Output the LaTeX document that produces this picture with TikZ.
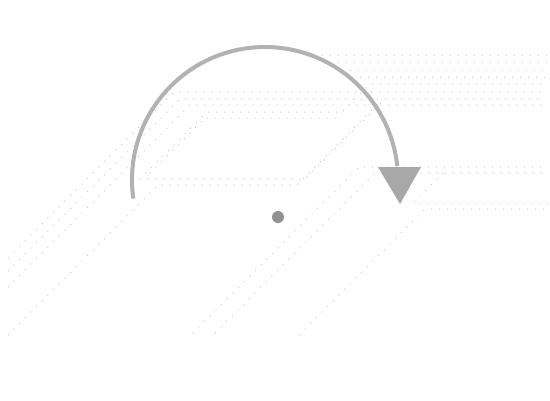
\documentclass[tikz,border=0pt]{standalone}
\usepackage{tikz}
\usetikzlibrary{positioning}
\definecolor{dotgray}{RGB}{200,200,200}
\definecolor{arcgray}{RGB}{178,178,178}
\definecolor{headgray}{RGB}{168,168,168}
\definecolor{pivotgray}{RGB}{145,145,145}
\tikzset{
  dotline/.style={dotgray,line width=1pt,dash pattern=on 1pt off 7pt},
  turnarc/.style={arcgray,line width=4pt},
  pivotdot/.style={circle,fill=pivotgray,inner sep=0pt,minimum size=12pt}
}
\begin{document}
\begin{tikzpicture}[x=1pt,y=-1pt]
  \fill[white] (0,0) rectangle (550,400);
  \useasboundingbox (0,0) rectangle (550,400);
  % upper band of rows
  \draw[dotline] (322,55) -- (548,55);
  \draw[dotline] (338,62) -- (548,62);
  \draw[dotline] (350,70) -- (548,70);
  \draw[dotline] (360,77) -- (548,77);
  % long rows from the left edge
  \draw[dotline] (8,258) -- (174,92) -- (547,92);
  \draw[dotline] (8,271) -- (180,99) -- (543,99);
  \draw[dotline] (8,287) -- (190,105) -- (543,105);
  \draw[dotline] (8,335) -- (158,185) -- (297,185) -- (378,104);
  \draw[dotline] (381,103) -- (305,179) -- (140,179) -- (207,112) -- (342,112) -- (370,84) -- (548,84);
  \draw[dotline] (150,173) -- (205,118) -- (340,118);
  % middle rows
  \draw[dotline] (193,333) -- (359,167) -- (548,167);
  \draw[dotline] (215,333) -- (375,173) -- (548,173);
  \draw[dotline] (299,335) -- (425,209) -- (548,209);
  \draw[dotline] (443,173) -- (413,203) -- (548,203);
  % turning arrow
  \coordinate (turn) at (265,180);
  \coordinate (headL) at (378,167);
  \coordinate (headR) at (421,167);
  \coordinate (tip) at (400,204);
  \draw[turnarc] (turn) ++(172:133) arc[start angle=172,end angle=354,radius=133];
  \fill[headgray] (headL) -- (headR) -- (tip) -- cycle;
  \node[pivotdot] (pivot) at (278,217) {};
\end{tikzpicture}
\end{document}
